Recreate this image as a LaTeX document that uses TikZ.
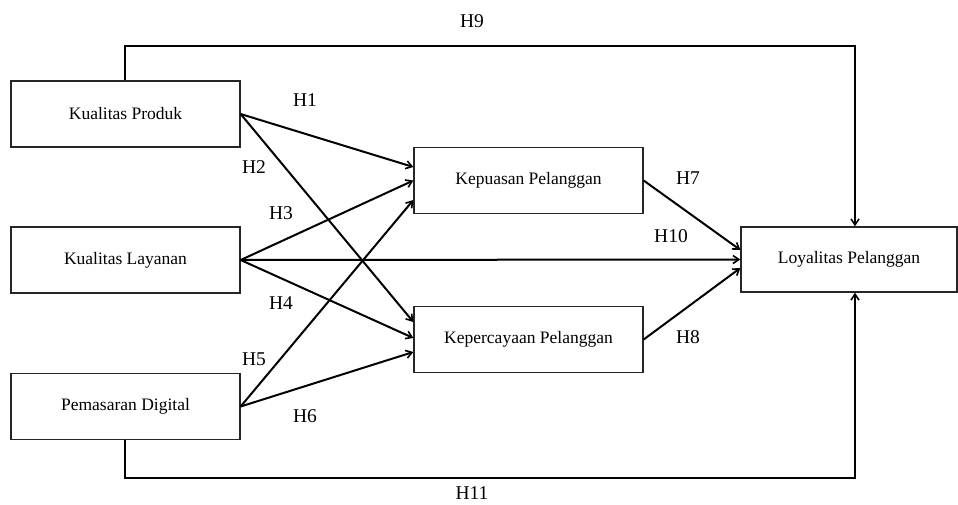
\documentclass[tikz,border=0pt]{standalone}
\usepackage{fontspec}
\setmainfont{Liberation Serif}
\usetikzlibrary{arrows.meta,calc}
\tikzset{
  varbox/.style={draw=black!85, line width=1.3pt, minimum width=229pt, minimum height=66pt, inner sep=0pt, font=\fontsize{17.5}{20}\selectfont},
  conn/.style={line width=2pt, -{Straight Barb[length=6pt,width=8pt,line width=1.6pt]}},
  hlab/.style={font=\fontsize{19.5}{22}\selectfont, inner sep=0pt}
}
\begin{document}
\begin{tikzpicture}[x=1pt,y=-1pt]
\useasboundingbox (0,0) rectangle (958,504);
\node[varbox] (kp) at (125.5,114) {Kualitas Produk};
\node[varbox] (kl) at (125.5,260) {Kualitas Layanan};
\node[varbox] (pd) at (125.5,406.5) {Pemasaran Digital};
\node[varbox] (kep) at (528.5,180.5) {Kepuasan Pelanggan};
\node[varbox] (kpc) at (528.5,339.5) {Kepercayaan Pelanggan};
\node[varbox, minimum width=216pt, minimum height=65pt] (loy) at (849,259.5) {Loyalitas Pelanggan};
\coordinate (t1) at (125,46);
\coordinate (t2) at (855,46);
\coordinate (b1) at (125,478);
\coordinate (b2) at (855,478);
% H9 / H11
\draw[conn] (kp.north -| t1) -- (t1) -- (t2) -- (t2 |- loy.north);
\draw[conn] (pd.south -| b1) -- (b1) -- (b2) -- (b2 |- loy.south);
% H1-H8, H10
\draw[conn] (kp.east) -- ([yshift=13.5pt]kep.west);
\draw[conn] (kp.east) -- ([yshift=17.5pt]kpc.west);
\draw[conn] (kl.east) -- (kep.west);
\draw[conn] (kl.east) -- ([yshift=1.5pt]kpc.west);
\draw[conn] (kl.east) -- (loy.west);
\draw[conn] (pd.east) -- ([yshift=-19.5pt]kep.west);
\draw[conn] (pd.east) -- ([yshift=-12.5pt]kpc.west);
\draw[conn] (kep.east) -- ([yshift=9.5pt]loy.west);
\draw[conn] (kpc.east) -- ([yshift=-8.5pt]loy.west);
% labels
\node[hlab] (h9) at (472,21) {H9};
\node[hlab] (h11) at (472,493) {H11};
\node[hlab] (h1) at (305,100) {H1};
\node[hlab] (h2) at (254,167) {H2};
\node[hlab] (h3) at (281,213) {H3};
\node[hlab] (h4) at (281,303) {H4};
\node[hlab] (h5) at (254,359) {H5};
\node[hlab] (h6) at (305,416) {H6};
\node[hlab] (h7) at (688,178) {H7};
\node[hlab] (h10) at (671,236) {H10};
\node[hlab] (h8) at (688,337) {H8};
\end{tikzpicture}
\end{document}
